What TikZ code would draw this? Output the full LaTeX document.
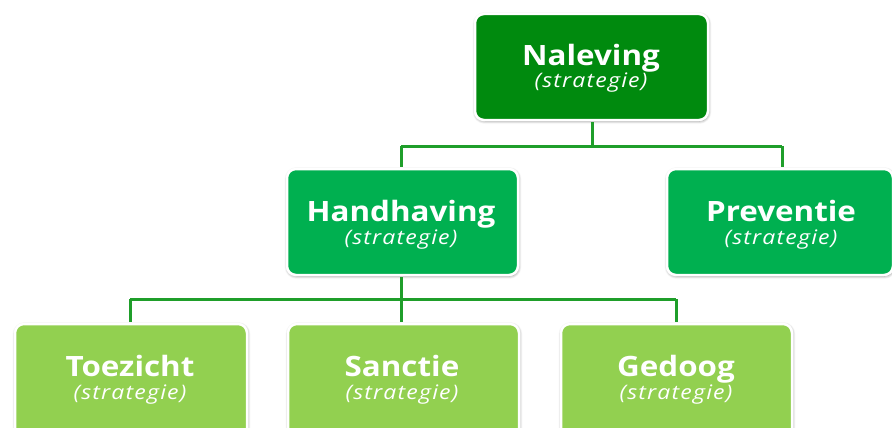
\documentclass[tikz,border=0pt]{standalone}
\usepackage{fontspec}
\setmainfont{Open Sans}
\usetikzlibrary{shadows.blur}
\definecolor{darkg}{HTML}{008A0E}
\definecolor{midg}{HTML}{00B050}
\definecolor{lightg}{HTML}{92D050}
\definecolor{lineg}{HTML}{1F9E2A}
\newfontfamily\ttlfont[FakeStretch=1.12]{Open Sans Bold}
\newfontfamily\subfont[FakeStretch=1.15, LetterSpace=6]{Open Sans Italic}
\tikzset{
  box/.style={draw=white, line width=2.5pt, rounded corners=9pt, blur shadow={shadow xshift=0.5pt, shadow yshift=-1pt, shadow blur radius=3pt, shadow blur steps=6, shadow opacity=50}},
  ttl/.style={text=white, font=\ttlfont\fontsize{28}{31}\selectfont, inner sep=0pt, anchor=base},
  sub/.style={text=white, font=\subfont\fontsize{20}{23}\selectfont, inner sep=0pt, anchor=base},
  conn/.style={draw=lineg, line width=3pt}
}
\begin{document}
\begin{tikzpicture}[x=1pt,y=-1pt]
\useasboundingbox (0,0) rectangle (892,428);
\clip (0,0) rectangle (892,428);
\coordinate (h1) at (401,146);
\coordinate (h2) at (782,146);
\coordinate (b1) at (130,299);
\coordinate (b2) at (676,299);
% boxes
\path[box, fill=darkg] (475,14) rectangle (708,120);
\path[box, fill=midg] (287,169) rectangle (518,275);
\path[box, fill=midg] (667,169) rectangle (893,275);
\path[box, fill=lightg] (15,324) rectangle (247,450);
\path[box, fill=lightg] (288,324) rectangle (519,450);
\path[box, fill=lightg] (561,324) rectangle (792,450);
% named anchors
\coordinate (nal) at (592,122);
\coordinate (hanT) at (401,167);
\coordinate (hanB) at (401,277);
\coordinate (preT) at (782,167);
\coordinate (toeT) at (130,322);
\coordinate (sanT) at (401,322);
\coordinate (gedT) at (676,322);
\draw[conn] (nal) -- (592,146);
\draw[conn] (h1) -- (h2);
\draw[conn] (h1) -- (hanT);
\draw[conn] (h2) -- (preT);
\draw[conn] (hanB) -- (sanT);
\draw[conn] (b1) -- (b2);
\draw[conn] (b1) -- (toeT);
\draw[conn] (b2) -- (gedT);
% texts
\node[ttl] (t1) at (591,66) {Naleving};
\node[sub] (s1) at (591,88) {(strategie)};
\node[ttl] (t2) at (401,221) {Handhaving};
\node[sub] (s2) at (401,244) {(strategie)};
\node[ttl] (t3) at (781,221) {Preventie};
\node[sub] (s3) at (781,244) {(strategie)};
\node[ttl] (t4) at (130,376) {Toezicht};
\node[sub] (s4) at (130,399) {(strategie)};
\node[ttl] (t5) at (402,376) {Sanctie};
\node[sub] (s5) at (402,399) {(strategie)};
\node[ttl] (t6) at (676,376) {Gedoog};
\node[sub] (s6) at (676,399) {(strategie)};
\end{tikzpicture}
\end{document}
